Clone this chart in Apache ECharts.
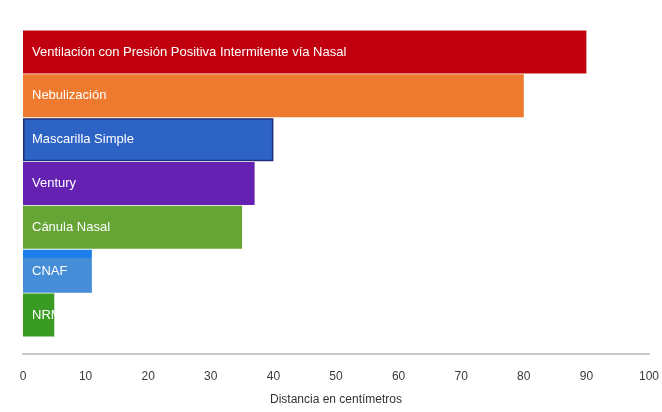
<!DOCTYPE html>
<html>
<head>
<meta charset="utf-8">
<script src="https://cdn.jsdelivr.net/npm/echarts@6/dist/echarts.min.js"></script>
<style>
  html, body { margin: 0; padding: 0; background: #fff; }
  #chart { width: 662px; height: 412px; }
</style>
</head>
<body>
<div id="chart"></div>
<script>
// Oxygen-delivery devices and the distance reached (cm)
const devices = [
  'Ventilación con Presión Positiva Intermitente vía Nasal',
  'Nebulización',
  'Mascarilla Simple',
  'Ventury',
  'Cánula Nasal',
  'CNAF',
  'NRM'
];
const distances = [90, 80, 40, 37, 35, 11, 5];
const barColors = ['#C0000E', '#EE7A2F', '#2E63C6', '#6521B2', '#66A436', '#468DD8', '#3A9B22'];
const xTicks = [0, 10, 20, 30, 40, 50, 60, 70, 80, 90, 100];

// per-bar extra styling: dark edge on the blue bar, bright top band on CNAF
function barStyle(i) {
  const style = { color: barColors[i] };
  if (i === 2) {
    style.borderColor = '#1E2E78';
    style.borderWidth = 1.5;
  }
  if (i === 5) {
    style.color = new echarts.graphic.LinearGradient(0, 0, 0, 1, [
      { offset: 0, color: '#1A7FEA' },
      { offset: 0.18, color: '#1A7FEA' },
      { offset: 0.19, color: '#468DD8' },
      { offset: 1, color: '#468DD8' }
    ]);
  }
  return style;
}

const chart = echarts.init(document.getElementById('chart'), null, { renderer: 'canvas' });

chart.setOption({
  animation: false,
  backgroundColor: '#ffffff',
  grid: { left: 23, right: 8, top: 30, bottom: 75, containLabel: false },
  xAxis: {
    type: 'value',
    min: xTicks[0],
    max: xTicks[xTicks.length - 1],
    interval: xTicks[1] - xTicks[0],
    offset: 17,
    axisLine: { show: true, lineStyle: { color: '#c8c8c8', width: 2 } },
    axisTick: { show: false },
    splitLine: { show: false },
    axisLabel: {
      margin: 17,
      color: '#3a3a3a',
      fontFamily: 'Liberation Sans Narrow, Arial Narrow, sans-serif',
      fontSize: 12
    },
    name: 'Distancia en centímetros',
    nameLocation: 'middle',
    nameGap: 40,
    nameTextStyle: {
      color: '#333',
      fontFamily: 'Liberation Sans Narrow, Arial Narrow, sans-serif',
      fontSize: 12
    }
  },
  yAxis: {
    type: 'category',
    data: devices,
    inverse: true,
    show: false
  },
  series: [{
    type: 'bar',
    barCategoryGap: '2%',
    data: distances.map((v, i) => ({
      value: v,
      itemStyle: barStyle(i)
    })),
    label: {
      show: true,
      position: 'insideLeft',
      distance: 9,
      formatter: p => p.name,
      color: '#ffffff',
      fontFamily: 'Liberation Sans Narrow, Arial Narrow, sans-serif',
      fontSize: 13
    }
  }]
});
</script>
</body>
</html>
